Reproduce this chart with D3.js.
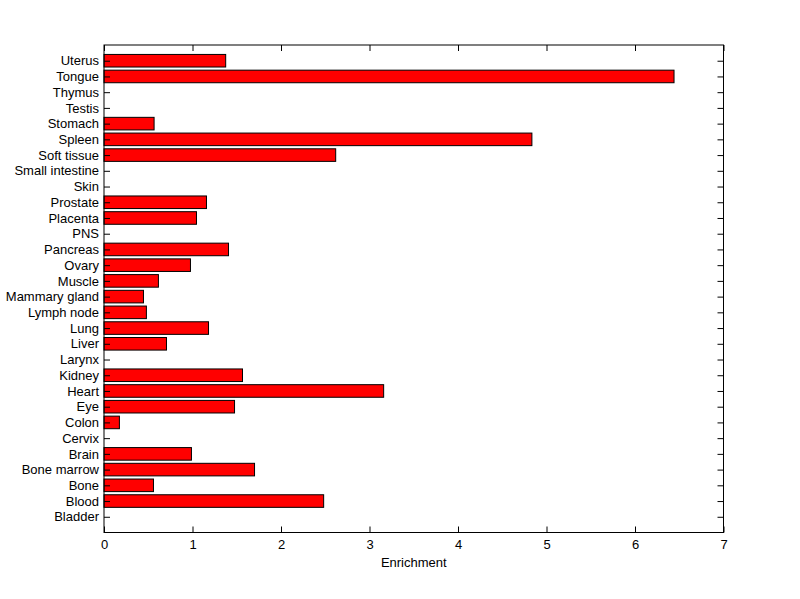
<!DOCTYPE html>
<html><head><meta charset="utf-8">
<script src="https://cdn.jsdelivr.net/npm/d3@7"></script>
<style>body{margin:0;background:#fff}svg{display:block}text{font-family:"Liberation Sans",Arial,sans-serif}</style>
</head><body>
<script>
const categories = ["Bladder","Blood","Bone","Bone marrow","Brain","Cervix","Colon","Eye","Heart","Kidney","Larynx","Liver","Lung","Lymph node","Mammary gland","Muscle","Ovary","Pancreas","PNS","Placenta","Prostate","Skin","Small intestine","Soft tissue","Spleen","Stomach","Testis","Thymus","Tongue","Uterus"];
const enrichment = [0,2.482,0.559,1.701,0.988,0,0.174,1.475,3.160,1.565,0,0.706,1.181,0.479,0.446,0.615,0.977,1.407,0,1.045,1.158,0,0,2.618,4.835,0.566,0,0,6.441,1.375];
const xTicks = [0,1,2,3,4,5,6,7];
const xLabel = "Enrichment";

const W = 800, H = 599;
const L = 104, R = 723.5, T = 45, B = 532.5;
const svg = d3.select("body").append("svg").attr("width", W).attr("height", H);
const x = d3.scaleLinear().domain([0,7]).range([L,R]);
const y = d3.scaleLinear().domain([0,categories.length+1]).range([B,T]);
const step = Math.abs(y(1)-y(0));
const bw = step*0.8;

// bars
svg.append("g").selectAll("rect").data(categories.map((c,i)=>({c,v:enrichment[i],i})).filter(d=>d.v>0))
  .enter().append("rect")
  .attr("x", x(0)).attr("y", d=>y(d.i+1)-bw/2)
  .attr("width", d=>x(d.v)-x(0)).attr("height", bw)
  .attr("fill","#ff0000").attr("stroke","#000").attr("stroke-width",1);

// frame
svg.append("rect").attr("x",L).attr("y",T).attr("width",R-L).attr("height",B-T)
  .attr("fill","none").attr("stroke","#000").attr("stroke-width",1);

const tl = 6;
const fs = "13px";
// x axis bottom (inward ticks)
const xb = d3.axisBottom(x).tickValues(xTicks).tickSize(-tl).tickPadding(7).tickFormat(d3.format("d"));
const gxb = svg.append("g").attr("transform",`translate(0,${B})`).call(xb);
const xt = d3.axisTop(x).tickValues(xTicks).tickSize(-tl).tickFormat("");
const gxt = svg.append("g").attr("transform",`translate(0,${T})`).call(xt);
// y axes
const yVals = categories.map((c,i)=>i+1);
const yl = d3.axisLeft(y).tickValues(yVals).tickSize(-tl).tickPadding(5).tickFormat(d=>categories[d-1]);
const gyl = svg.append("g").attr("transform",`translate(${L},0)`).call(yl);
const yr = d3.axisRight(y).tickValues(yVals).tickSize(-tl).tickFormat("");
const gyr = svg.append("g").attr("transform",`translate(${R},0)`).call(yr);

[gxb,gxt,gyl,gyr].forEach(g=>{
  g.select(".domain").remove();
  g.selectAll("line").attr("stroke","#000");
  g.selectAll("text").attr("fill","#000").style("font-size",fs).style("font-family","'Liberation Sans',Arial,sans-serif");
});

svg.append("text").attr("x",(L+R)/2).attr("y",567).attr("text-anchor","middle")
  .style("font-size",fs).attr("fill","#000").text(xLabel);
</script>
</body></html>
